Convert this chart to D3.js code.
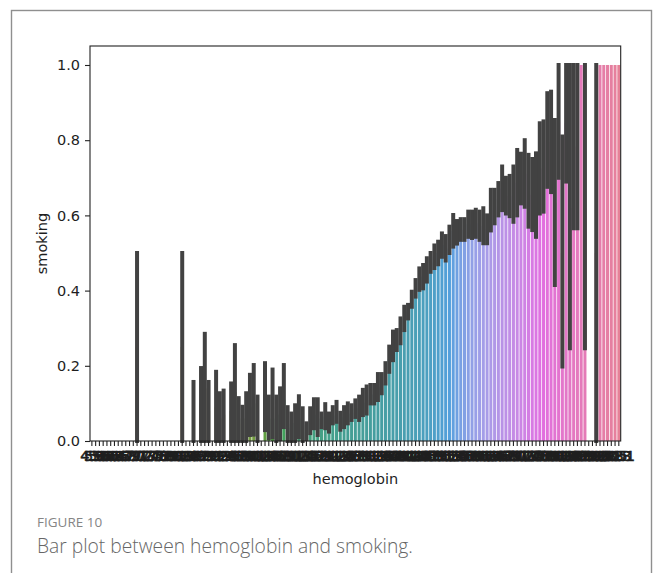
<!DOCTYPE html>
<html><head><meta charset="utf-8">
<script src="https://cdn.jsdelivr.net/npm/d3@7"></script>
<style>
html,body{margin:0;padding:0;background:#fff;}
svg{display:block;}
</style></head>
<body>
<svg id="chart" width="657" height="573"></svg>
<script>
// ---------- DATA ----------
const hemoglobin = ["4.9","5.1","5.6","5.8","6.0","6.2","6.4","6.6","6.7","6.8","6.9",
"7.0","7.1","7.2","7.3","7.4","7.5","7.6","7.7","7.8","7.9",
"8.0","8.1","8.2","8.3","8.4","8.5","8.6","8.7","8.8","8.9",
"9.0","9.1","9.2","9.3","9.4","9.5","9.6","9.7","9.8","9.9",
"10.0","10.1","10.2","10.3","10.4","10.5","10.6","10.7","10.8","10.9",
"11.0","11.1","11.2","11.3","11.4","11.5","11.6","11.7","11.8","11.9",
"12.0","12.1","12.2","12.3","12.4","12.5","12.6","12.7","12.8","12.9",
"13.0","13.1","13.2","13.3","13.4","13.5","13.6","13.7","13.8","13.9",
"14.0","14.1","14.2","14.3","14.4","14.5","14.6","14.7","14.8","14.9",
"15.0","15.1","15.2","15.3","15.4","15.5","15.6","15.7","15.8","15.9",
"16.0","16.1","16.2","16.3","16.4","16.5","16.6","16.7","16.8","16.9",
"17.0","17.1","17.2","17.3","17.4","17.5","17.6","17.7","17.8","17.9",
"18.0","18.1","18.2","18.3","18.4","18.5","18.6","18.7","18.8","18.9",
"19.0","19.2","19.3","19.5","19.8","20.0","20.3","20.5","20.8","21.1"];

// upper end of the 95% CI (error bar top)
const ciHigh = [0,0,0,0,0,0,0,0,0,0,0,0,
0.5,
0,0,0,0,0,0,0,0,0,0,0,
0.5,
0,0,
0.157,0,0.194,0.285,0.157,0,0.184,0.127,0.134,0,
0.153,0.255,0.114,0.091,0.127,0.176,0.202,0.118,0,0.207,
0.118,0.19,0.118,0.14,0.202,0.09,0.073,0.095,0.119,0.087,
0.047,0.087,0.111,0.111,0.073,0.098,0.073,0.09,0.104,0.075,
0.09,0.1,0.095,0.108,0.118,0.136,0.145,0.149,0.149,0.178,
0.178,0.207,0.251,0.291,0.295,0.326,0.357,0.362,0.397,0.428,
0.459,0.468,0.486,0.50,0.52,0.53,0.552,0.545,0.57,0.601,
0.585,0.59,0.59,0.61,0.61,0.615,0.61,0.619,0.60,0.668,
0.668,0.686,0.73,0.70,0.705,0.73,0.774,0.764,0.80,0.761,
0.75,0.765,0.845,0.85,0.925,0.929,0.854,1.0,0.81,1.0,
1.0,1.0,1.0,1.0,1.0,0,0,1.0,1.0,1.0,1.0,1.0,1.0,1.0];

// lower end of the 95% CI (error bar bottom)
const ciLow = [0,0,0,0,0,0,0,0,0,0,0,0,
0,
0,0,0,0,0,0,0,0,0,0,0,
0,
0,0,
0,0,0,0,0,0,0,0,0,0,
0,0,0,0,0,0.016,0.017,0,0,0.029,
0.008,0.01,0,0.005,0.037,0,0,0,0.01,0,
0.005,0.021,0.034,0.016,0.037,0.034,0.025,0.047,0.051,0.03,
0.037,0.047,0.056,0.064,0.056,0.069,0.073,0.1,0.1,0.109,
0.127,0.153,0.184,0.215,0.242,0.26,0.295,0.326,0.357,0.384,
0.402,0.406,0.424,0.45,0.46,0.47,0.49,0.48,0.50,0.517,
0.525,0.535,0.535,0.543,0.54,0.543,0.535,0.526,0.526,0.56,
0.579,0.60,0.614,0.605,0.598,0.583,0.60,0.632,0.623,0.57,
0.561,0.543,0.605,0.61,0.676,0.662,0.415,0.70,0.198,0.69,
0.247,0.566,0.566,1.0,0.247,0,0,0,1.0,1.0,1.0,1.0,1.0,1.0];

// mean smoking rate (bar height)
const smokingMean = [0,0,0,0,0,0,0,0,0,0,0,0,
0.25,
0,0,0,0,0,0,0,0,0,0,0,
0.25,
0,0,
0.08,0,0.1,0.14,0.08,0,0.09,0.06,0.07,0,
0.08,0.13,0.06,0.045,0.06,0.09,0.1,0.06,0,0.11,
0.06,0.09,0.06,0.07,0.11,0.045,0.036,0.048,0.06,0.043,
0.024,0.05,0.07,0.06,0.055,0.065,0.05,0.068,0.077,0.052,
0.063,0.073,0.075,0.086,0.087,0.102,0.109,0.124,0.124,0.143,
0.152,0.18,0.217,0.253,0.268,0.293,0.326,0.344,0.377,0.406,
0.43,0.437,0.455,0.475,0.49,0.50,0.521,0.512,0.535,0.559,
0.555,0.562,0.562,0.576,0.575,0.579,0.572,0.572,0.563,0.614,
0.623,0.643,0.672,0.652,0.651,0.656,0.687,0.698,0.711,0.665,
0.655,0.654,0.725,0.73,0.80,0.795,0.634,0.85,0.5,0.845,
0.62,0.783,0.783,1.0,0.62,0,0,0.5,1.0,1.0,1.0,1.0,1.0,1.0];

const yTicks = [0, 0.2, 0.4, 0.6, 0.8, 1.0];

// ---------- HUSL (HSLuv) palette, as seaborn husl_palette ----------
const M = [[3.240969941904521,-1.537383177570093,-0.498610760293],
           [-0.96924363628087,1.87596750150772,0.041555057407175],
           [0.055630079696993,-0.20397695888897,1.056971514242878]];
const KAPPA = 903.2962962, EPS = 0.0088564516;
function getBounds(L){
  const sub1 = Math.pow(L+16,3)/1560896;
  const sub2 = sub1 > EPS ? sub1 : L/KAPPA;
  const out = [];
  for (const [m1,m2,m3] of M){
    for (const t of [0,1]){
      const top1 = (284517*m1 - 94839*m3)*sub2;
      const top2 = (838422*m3 + 769860*m2 + 731718*m1)*L*sub2 - 769860*t*L;
      const bottom = (632260*m3 - 126452*m2)*sub2 + 126452*t;
      out.push([top1/bottom, top2/bottom]);
    }
  }
  return out;
}
function maxChroma(L,H){
  const hr = H/360*2*Math.PI; let min = Infinity;
  for (const [m,b] of getBounds(L)){
    const len = b/(Math.sin(hr) - m*Math.cos(hr));
    if (len >= 0 && len < min) min = len;
  }
  return min;
}
function fromLinear(c){ return c <= 0.0031308 ? 12.92*c : 1.055*Math.pow(c,1/2.4)-0.055; }
function huslToRgb(H,S,L){
  const C = maxChroma(L,H)/100*S;
  const hr = H/360*2*Math.PI;
  const U = Math.cos(hr)*C, V = Math.sin(hr)*C;
  const refU = 0.19783000664283, refV = 0.46831999493879;
  const Y = L <= 8 ? L/KAPPA : Math.pow((L+16)/116,3);
  const vU = U/(13*L)+refU, vV = V/(13*L)+refV;
  const X = 0 - (9*Y*vU)/((vU-4)*vV - vU*vV);
  const Z = (9*Y - 15*vV*Y - vV*X)/(3*vV);
  return M.map(r => Math.max(0, Math.min(1, fromLinear(r[0]*X + r[1]*Y + r[2]*Z))));
}
function huslPalette(n){
  const cols = [];
  for (let i=0;i<n;i++){
    const h = ((i/n) + 0.01) % 1 * 359;
    const [r,g,b] = huslToRgb(h, 0.9*99, 0.65*99);
    const c = d3.hsl(d3.rgb(r*255,g*255,b*255));
    c.s *= 0.75; // seaborn barplot saturation
    cols.push(c.formatHex());
  }
  return cols;
}
const palette = huslPalette(hemoglobin.length);

// ---------- LAYOUT ----------
const svg = d3.select("#chart");
const pL = 90, pR = 620.7, pT = 46, pB = 441;
const FONT = "'DejaVu Sans', sans-serif";
const TXT = "#1e1e1e";

// outer figure frame
svg.append("rect").attr("x",11.5).attr("y",10.5).attr("width",640).attr("height",620)
  .attr("fill","none").attr("stroke","#8f8f8f").attr("stroke-width",1.4);

const x = d3.scaleBand().domain(hemoglobin).range([pL,pR]).paddingInner(0.2).paddingOuter(0.1);
const y = d3.scaleLinear().domain([0,1.0505]).range([pB,pT]);

// bars
svg.append("g").selectAll("rect").data(hemoglobin).join("rect")
  .attr("x", d => x(d))
  .attr("width", x.bandwidth())
  .attr("y", (d,i) => y(smokingMean[i]))
  .attr("height", (d,i) => y(0) - y(smokingMean[i]))
  .attr("fill", (d,i) => palette[i]);

// error bars
const errIdx = d3.range(hemoglobin.length).filter(i => ciHigh[i] > ciLow[i]);
svg.append("g").selectAll("line").data(errIdx).join("line")
  .attr("x1", i => x(hemoglobin[i]) + x.bandwidth()/2)
  .attr("x2", i => x(hemoglobin[i]) + x.bandwidth()/2)
  .attr("y1", i => y(ciLow[i]))
  .attr("y2", i => y(ciHigh[i]))
  .attr("stroke","#424242").attr("stroke-width",4).attr("stroke-linecap","square");

// spines
svg.append("rect").attr("x",pL).attr("y",pT).attr("width",pR-pL).attr("height",pB-pT)
  .attr("fill","none").attr("stroke","#222").attr("stroke-width",1.1);

// y axis
const yAxis = svg.append("g").attr("transform",`translate(${pL},0)`)
  .call(d3.axisLeft(y).tickValues(yTicks).tickFormat(d3.format(".1f")).tickSize(5).tickPadding(5));
yAxis.select(".domain").remove();
yAxis.selectAll("line").attr("stroke","#222").attr("stroke-width",1.1);
yAxis.selectAll("text").attr("font-family",FONT).attr("font-size",14.5).attr("fill",TXT);

// x axis
const xAxis = svg.append("g").attr("transform",`translate(0,${pB})`)
  .call(d3.axisBottom(x).tickSize(5).tickPadding(5));
xAxis.select(".domain").remove();
xAxis.selectAll("line").attr("stroke","#222").attr("stroke-width",1.1);
xAxis.selectAll("text").attr("font-family",FONT).attr("font-size",14.5).attr("fill",TXT)
  .attr("stroke",TXT).attr("stroke-width",0.6);

// axis labels
svg.append("text").attr("x",(pL+pR)/2).attr("y",484).attr("text-anchor","middle")
  .attr("font-family",FONT).attr("font-size",14.5).attr("fill",TXT).text("hemoglobin");
svg.append("text").attr("transform",`translate(47,${(pT+pB)/2}) rotate(-90)`)
  .attr("text-anchor","middle").attr("font-family",FONT).attr("font-size",14.5).attr("fill",TXT).text("smoking");

// caption
svg.append("text").attr("x",37).attr("y",527).attr("font-family","'Open Sans', sans-serif")
  .attr("font-size",13.5).attr("font-weight",400).attr("fill","#858585").text("FIGURE 10");
const cap = svg.append("text").attr("x",37).attr("y",553).attr("font-family","'Open Sans', sans-serif")
  .attr("font-size",17).attr("font-weight",300).attr("fill","#666").text("Bar plot between hemoglobin and smoking.");
const len = cap.node().getComputedTextLength();
cap.attr("font-size", 17*376/len);
</script>
</body></html>
